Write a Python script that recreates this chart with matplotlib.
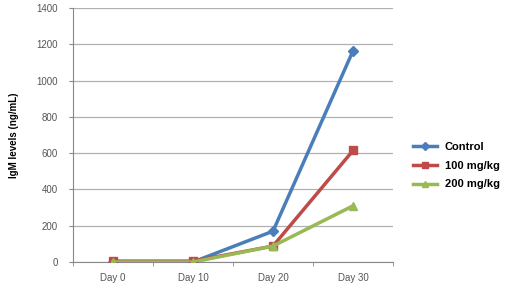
import matplotlib
matplotlib.use("Agg")
import matplotlib.pyplot as plt
import numpy as np

categories = ["Day 0", "Day 10", "Day 20", "Day 30"]
control = [0, 0, 170, 1165]
mg100 = [5, 5, 88, 615]
mg200 = [0, 0, 88, 310]
series_names = ["Control", "100 mg/kg", "200 mg/kg"]
yticks = [0, 200, 400, 600, 800, 1000, 1200, 1400]

fig = plt.figure(figsize=(5.2, 2.87), dpi=100)
ax = fig.add_axes([0.140, 0.087, 0.616, 0.885])

x = np.arange(len(categories))
styles = [("#4a7ebb", "D", 5), ("#be4b48", "s", 6), ("#98b954", "^", 6)]
for vals, name, (c, m, ms) in zip([control, mg100, mg200], series_names, styles):
    ax.plot(x, vals, color=c, lw=2.5, marker=m, ms=ms, label=name, zorder=3)

ax.set_xlim(-0.5, len(categories) - 0.5)
ax.set_ylim(0, 1400)
ax.set_yticks(yticks)
ax.set_yticklabels([str(v) for v in yticks], fontsize=7, color="#555555", family="Liberation Sans")
ax.set_xticks(x)
ax.set_xticklabels(categories, fontsize=7, color="#555555", family="Liberation Sans")
ax.set_xticks(np.arange(-0.5, len(categories)), minor=True)
ax.tick_params(axis="x", which="major", length=0, pad=8)
ax.tick_params(axis="x", which="minor", length=3, color="#888888")
ax.tick_params(axis="y", length=3, color="#888888", pad=8)
ax.grid(axis="y", color="#b0b0b0", lw=0.9)
ax.set_axisbelow(True)
for s in ["top", "right"]:
    ax.spines[s].set_visible(False)
for s in ["left", "bottom"]:
    ax.spines[s].set_color("#888888")

ax.set_ylabel("IgM levels (ng/mL)", fontsize=7, fontweight="bold", family="Liberation Sans", labelpad=12)

leg = ax.legend(loc="center left", bbox_to_anchor=(1.03, 0.38), frameon=False,
                prop={"family": "Liberation Sans", "weight": "bold", "size": 8},
                handlelength=2.2, labelspacing=0.8, handletextpad=0.7,
                markerscale=0.8)

fig.savefig("out.png", dpi=100)
